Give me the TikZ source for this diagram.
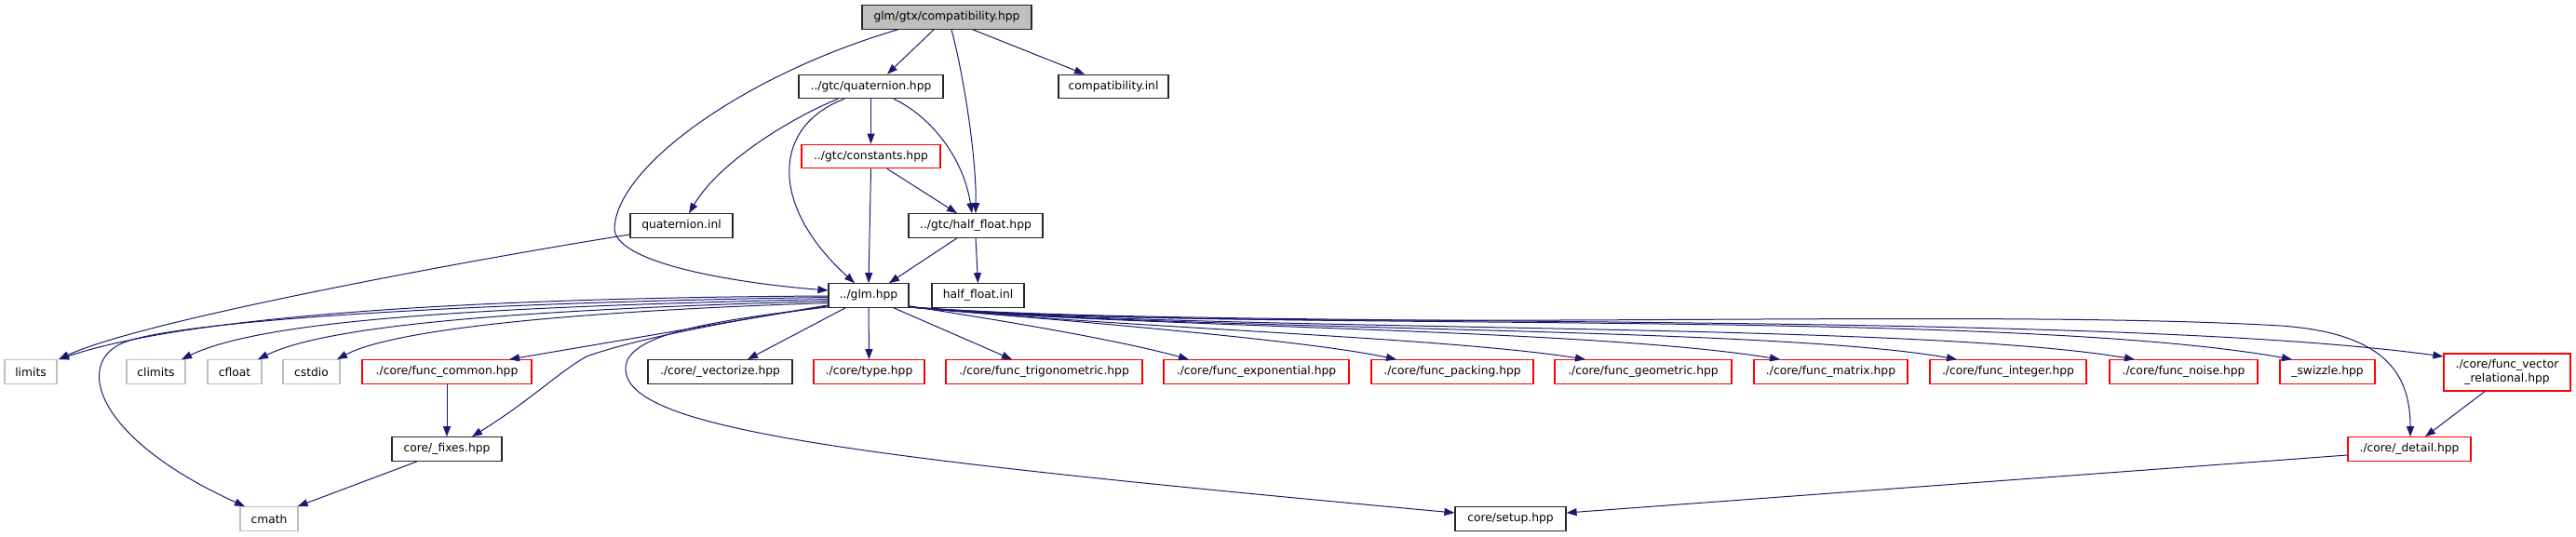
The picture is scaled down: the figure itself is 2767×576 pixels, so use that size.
\documentclass[tikz,border=0pt]{standalone}
\usepackage{fontspec}
\setmainfont{DejaVu Sans}
\usetikzlibrary{arrows.meta}
\definecolor{edgeblue}{HTML}{191970}
\definecolor{rootgray}{HTML}{BFBFBF}
\definecolor{sysgray}{HTML}{BFBFBF}
\begin{document}
\begin{tikzpicture}[x=1pt,y=-1pt,
 nd/.style={rectangle, inner sep=0pt, minimum height=25.5pt, line width=1.2pt, font=\fontsize{12.3}{14.5}\selectfont, fill=white, text=black},
 blk/.style={nd, draw=black!85},
 rnd/.style={nd, draw=red},
 snd/.style={nd, draw=sysgray},
 rootnd/.style={nd, draw=black!85, fill=rootgray},
 lnk/.style={draw=edgeblue, line width=1pt, -{Triangle[length=11pt,width=8pt]}}]
\useasboundingbox (0,0) rectangle (2767,576);
% top part
\node[rootnd, minimum width=182pt] (compat) at (1017,18.5) {glm/gtx/compatibility.hpp};
\node[blk, minimum width=155pt] (quat) at (935.5,93) {../gtc/quaternion.hpp};
\node[blk, minimum width=118pt] (compatinl) at (1196,93) {compatibility.inl};
\node[rnd, minimum width=149pt] (const) at (935.5,168) {../gtc/constants.hpp};
\node[blk, minimum width=110pt] (quatinl) at (732,242.5) {quaternion.inl};
\node[blk, minimum width=144pt] (half) at (1048,242.5) {../gtc/half\_float.hpp};
\node[blk, minimum width=86pt] (glm) at (933,317.5) {../glm.hpp};
\node[blk, minimum width=99pt] (halfinl) at (1050.5,317.5) {half\_float.inl};
% row
\node[snd, minimum width=56pt] (limits) at (33,399.5) {limits};
\node[snd, minimum width=63pt] (climits) at (167.5,399.5) {climits};
\node[snd, minimum width=58pt] (cfloat) at (252,399.5) {cfloat};
\node[snd, minimum width=61pt] (cstdio) at (334.5,399.5) {cstdio};
\node[rnd, minimum width=182pt] (common) at (480,399.5) {./core/func\_common.hpp};
\node[blk, minimum width=155pt] (vect) at (773.5,399.5) {./core/\_vectorize.hpp};
\node[rnd, minimum width=119pt] (type) at (933.5,399.5) {./core/type.hpp};
\node[rnd, minimum width=211pt] (trig) at (1121.5,399.5) {./core/func\_trigonometric.hpp};
\node[rnd, minimum width=199pt] (expo) at (1349.5,399.5) {./core/func\_exponential.hpp};
\node[rnd, minimum width=174pt] (pack) at (1560,399.5) {./core/func\_packing.hpp};
\node[rnd, minimum width=190pt] (geom) at (1765,399.5) {./core/func\_geometric.hpp};
\node[rnd, minimum width=165pt] (matrix) at (1966.5,399.5) {./core/func\_matrix.hpp};
\node[rnd, minimum width=168pt] (integer) at (2157,399.5) {./core/func\_integer.hpp};
\node[rnd, minimum width=159pt] (noise) at (2345.5,399.5) {./core/func\_noise.hpp};
\node[rnd, minimum width=102pt] (swizzle) at (2500,399.5) {\_swizzle.hpp};
\node[rnd, minimum width=136pt, minimum height=40pt, align=center] (vecrel) at (2693,400) {./core/func\_vector\\\_relational.hpp};
\node[blk, minimum width=118pt] (fixes) at (480,482.5) {core/\_fixes.hpp};
\node[rnd, minimum width=132pt] (detail) at (2588,482.5) {./core/\_detail.hpp};
\node[snd, minimum width=62pt] (cmath) at (289,557.5) {cmath};
\node[blk, minimum width=119pt] (setup) at (1622.5,557.5) {core/setup.hpp};
% edges from compatibility.hpp
\draw[lnk] ([xshift=39pt]compat.south west) .. controls (800,80) and (660,180) .. (660,247) .. controls (665,285) and (800,305) .. ([yshift=5.5pt]glm.west);
\draw[lnk] ([xshift=-14pt]compat.south) -- ([xshift=17.5pt]quat.north);
\draw[lnk] ([xshift=5pt]compat.south) .. controls (1035,80) and (1049,170) .. (half.north);
\draw[lnk] ([xshift=28pt]compat.south) -- ([xshift=-31pt]compatinl.north);
% edges from quaternion.hpp
\draw[lnk] ([xshift=-35.5pt]quat.south) .. controls (860,122) and (775,170) .. ([xshift=8pt]quatinl.north);
\draw[lnk] ([xshift=-28.5pt]quat.south) .. controls (830,135) and (825,220) .. ([xshift=-15pt]glm.north);
\draw[lnk] (quat.south) -- (const.north);
\draw[lnk] ([xshift=24.5pt]quat.south) .. controls (1000,125) and (1035,170) .. ([xshift=-4pt]half.north);
% constants
\draw[lnk] (const.south) -- (glm.north);
\draw[lnk] ([xshift=17.5pt]const.south) -- ([xshift=-20pt]half.north);
% half_float
\draw[lnk] ([xshift=-20pt]half.south) -- ([xshift=22pt]glm.north);
\draw[lnk] (half.south) -- (halfinl.north);
% quaternion.inl
\draw[lnk] ([yshift=-9.5pt]quatinl.west) .. controls (500,280) and (150,345) .. ([xshift=30pt]limits.north);
% glm to the left
\draw[lnk] ([yshift=-0.5pt]glm.west) .. controls (500,320) and (200,340) .. ([xshift=30pt]limits.north);
\draw[lnk] ([yshift=-4pt]glm.west) .. controls (500,330) and (280,345) .. ([xshift=27.5pt]climits.north);
\draw[lnk] ([yshift=-6pt]glm.west) .. controls (550,333) and (350,350) .. ([xshift=25pt]cfloat.north);
\draw[lnk] ([yshift=-8pt]glm.west) .. controls (600,335) and (420,355) .. ([xshift=27.5pt]cstdio.north);
\draw[lnk] ([yshift=3pt]glm.south west) -- ([xshift=67pt]common.north);
\draw[lnk] ([yshift=2pt]glm.south west) .. controls (780,345) and (680,365) .. (630,383) .. controls (600,400) and (570,430) .. ([xshift=27pt]fixes.north);
\draw[lnk] ([yshift=-2pt]glm.west) .. controls (500,325) and (190,345) .. (133,368) .. controls (80,389) and (100,470) .. ([xshift=-26pt]cmath.north);
\draw[lnk] ([yshift=1pt]glm.south west) .. controls (760,345) and (672,360) .. (672,396) .. controls (672,460) and (900,490) .. ([yshift=6.5pt]setup.west);
% glm downward / right
\draw[lnk] ([xshift=-25pt]glm.south) -- ([xshift=29.5pt]vect.north);
\draw[lnk] (glm.south) -- (type.north);
\draw[lnk] ([xshift=27pt]glm.south) -- ([xshift=-34.5pt]trig.north);
\draw[lnk] ([yshift=2pt]glm.south east) .. controls (1080,345) and (1200,365) .. ([xshift=-72.5pt]expo.north);
\draw[lnk] ([yshift=1pt]glm.south east) .. controls (1150,345) and (1400,365) .. ([xshift=-60pt]pack.north);
\draw[lnk] ([yshift=1pt]glm.south east) .. controls (1200,352) and (1550,362) .. ([xshift=-62pt]geom.north);
\draw[lnk] ([yshift=1pt]glm.south east) .. controls (1200,352) and (1700,352) .. ([xshift=-54.5pt]matrix.north);
\draw[lnk] ([yshift=1pt]glm.south east) .. controls (1250,356) and (1900,350) .. ([xshift=-55pt]integer.north);
\draw[lnk] ([yshift=1pt]glm.south east) .. controls (1300,358) and (2050,345) .. ([xshift=-52.5pt]noise.north);
\draw[lnk] ([yshift=1pt]glm.south east) .. controls (1300,358) and (2150,330) .. ([xshift=-38pt]swizzle.north);
\draw[lnk] ([yshift=1pt]glm.south east) .. controls (1300,355) and (2250,332) .. ([yshift=17pt]vecrel.west);
\draw[lnk] ([yshift=1pt]glm.south east) .. controls (1400,360) and (2100,330) .. (2450,350) .. controls (2560,358) and (2589,400) .. ([xshift=1pt]detail.north);
% lower edges
\draw[lnk] (common.south) -- (fixes.north);
\draw[lnk] ([xshift=-32pt]fixes.south) -- ([xshift=-1pt]cmath.north east);
\draw[lnk] ([xshift=-24pt]vecrel.south) -- ([xshift=17pt]detail.north);
\draw[lnk] ([yshift=-6.5pt]detail.west) -- ([yshift=6.5pt]setup.east);
\end{tikzpicture}
\end{document}
